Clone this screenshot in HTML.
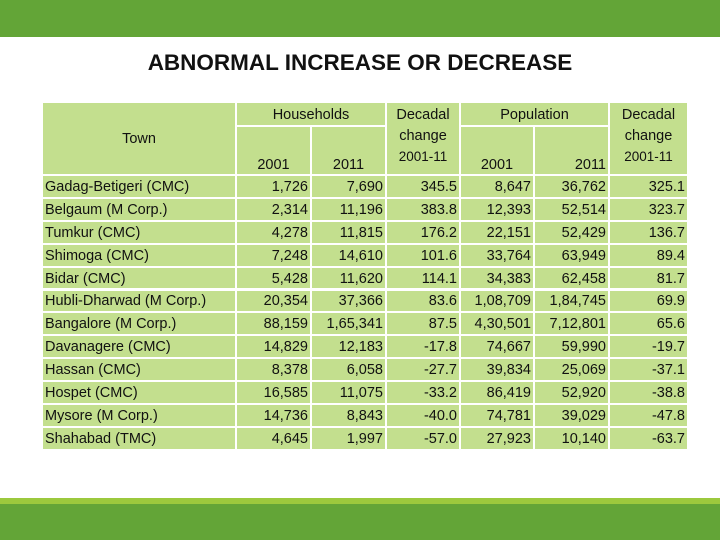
<!DOCTYPE html>
<html><head><meta charset="utf-8">
<style>
body{margin:0;width:720px;height:540px;position:relative;background:#fff;font-family:"Liberation Sans",sans-serif;overflow:hidden}
.c{position:absolute;background:#c3df8e;box-sizing:border-box;font-size:14.5px;color:#111;white-space:nowrap;line-height:18px}
</style></head><body>
<div style="position:absolute;left:0;top:0;width:720px;height:37px;background:#63a537"></div>
<div style="position:absolute;left:0;top:50px;width:720px;text-align:center;font-weight:bold;font-size:22.5px;color:#111">ABNORMAL INCREASE OR DECREASE</div>
<div id="tbl"></div>
<div style="position:absolute;left:0;top:498px;width:720px;height:6px;background:#9cc93d"></div>
<div style="position:absolute;left:0;top:504px;width:720px;height:36px;background:#63a537"></div>
<script>
const towns=["Gadag-Betigeri (CMC)","Belgaum (M Corp.)","Tumkur (CMC)","Shimoga (CMC)","Bidar (CMC)","Hubli-Dharwad (M Corp.)","Bangalore (M Corp.)","Davanagere (CMC)","Hassan (CMC)","Hospet (CMC)","Mysore (M Corp.)","Shahabad (TMC)"];
const hh2001=["1,726","2,314","4,278","7,248","5,428","20,354","88,159","14,829","8,378","16,585","14,736","4,645"];
const hh2011=["7,690","11,196","11,815","14,610","11,620","37,366","1,65,341","12,183","6,058","11,075","8,843","1,997"];
const hhChange=["345.5","383.8","176.2","101.6","114.1","83.6","87.5","-17.8","-27.7","-33.2","-40.0","-57.0"];
const pop2001=["8,647","12,393","22,151","33,764","34,383","1,08,709","4,30,501","74,667","39,834","86,419","74,781","27,923"];
const pop2011=["36,762","52,514","52,429","63,949","62,458","1,84,745","7,12,801","59,990","25,069","52,920","39,029","10,140"];
const popChange=["325.1","323.7","136.7","89.4","81.7","69.9","65.6","-19.7","-37.1","-38.8","-47.8","-63.7"];
const X=[43,237,312,387,461,535,610,689];
const tbl=document.getElementById('tbl');
function cell(x0,x1,y0,y1,txt,align,valign,name,pad){
  const d=document.createElement('div');d.className='c';
  
  
  d.style.left=x0+'px';d.style.top=y0+'px';d.style.width=(x1-x0-2)+'px';d.style.height=(y1-y0-2)+'px';
  d.style.display='flex';d.style.flexDirection='column';
  d.style.justifyContent=valign;d.style.textAlign=align;d.style.padding=pad||'2px 2px 1px 2px';
  d.innerHTML=txt;tbl.appendChild(d);
}
cell(X[0],X[1],103,176,'Town','center','center','header-town');
cell(X[1],X[3],103,127,'Households','center','flex-start','header-households','3px 2px 0 2px');
cell(X[1],X[2],127,176,'2001','center','flex-end','header-hh-2001','0 2px 0 2px');
cell(X[2],X[3],127,176,'2011','center','flex-end','header-hh-2011','0 2px 0 2px');
cell(X[3],X[4],103,176,'<div style="line-height:21px">Decadal<br>change</div><div style="font-size:13.5px;line-height:20px">2001-11</div>','center','flex-start','header-hh-change','2px 2px 0 2px');
cell(X[4],X[6],103,127,'Population','center','flex-start','header-population','3px 2px 0 2px');
cell(X[4],X[5],127,176,'2001','center','flex-end','header-pop-2001','0 2px 0 2px');
cell(X[5],X[6],127,176,'2011','right','flex-end','header-pop-2011','0 2px 0 2px');
cell(X[6],X[7],103,176,'<div style="line-height:21px">Decadal<br>change</div><div style="font-size:13.5px;line-height:20px">2001-11</div>','center','flex-start','header-pop-change','2px 2px 0 2px');
const cols=[towns,hh2001,hh2011,hhChange,pop2001,pop2011,popChange];
const colNames=['town','hh-2001','hh-2011','hh-change','pop-2001','pop-2011','pop-change'];
for(let r=0;r<towns.length;r++){
  const y0=176+r*22.9,y1=y0+22.9;
  for(let c=0;c<7;c++){
    cell(X[c],X[c+1],y0,y1,cols[c][r],c===0?'left':'right','center',colNames[c]+'-row-'+(r+1));
  }
}
</script>
</body></html>
